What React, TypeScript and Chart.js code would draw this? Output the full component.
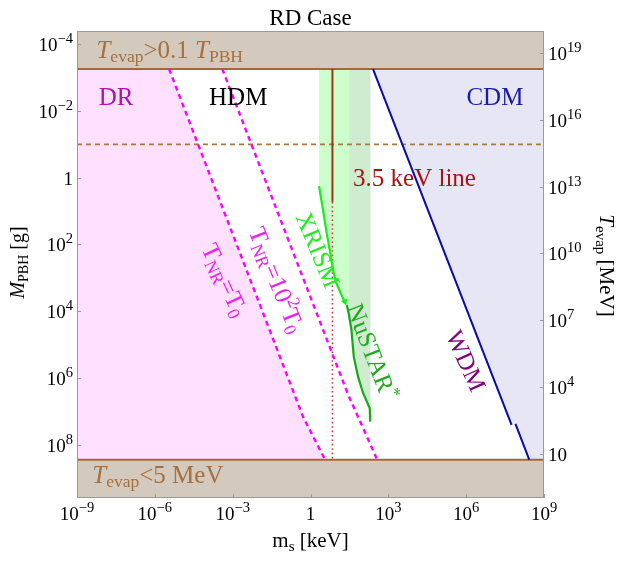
import React, { useEffect, useRef } from 'react';
import { Chart, registerables } from 'chart.js';

Chart.register(...registerables);

// ---------- axis ranges (log10 exponents) ----------
const xRangeExp = [-9, 9];          // m_s [keV]
const mRangeExp = [-4.4, 9.6];      // M_PBH [g] (top -> bottom)
const tRange = [0.1, 1e20];         // T_evap [MeV]

const xTickExps = [-9, -6, -3, 0, 3, 6, 9];
const mTickExps = [-4, -2, 0, 2, 4, 6, 8];
const tTickExps = [1, 4, 7, 10, 13, 16, 19];

// ---------- horizontal limits (log10 M) ----------
const upperLimitExp = -3.26;  // T_evap > 0.1 T_PBH
const lowerLimitExp = 8.45;   // T_evap < 5 MeV
const dashedLevelExp = -1;

// ---------- T_NR lines (log10 m_s, log10 M) ----------
const tnr1X = [-5.45, -0.29, 0.56];
const tnr1Y = [-3.26, 7.16, 8.45];
const tnr2X = [-3.4, 1.45, 2.57];
const tnr2Y = [-3.26, 6.5, 8.45];

// ---------- DR region ----------
const drX = [-9, -5.45, -0.29, 0.56];
const drY = [-3.26, -3.26, 7.16, 8.45];

// ---------- CDM / WDM boundary ----------
const cdmAX = [2.41, 7.75];
const cdmAY = [-3.26, 7.41];
const cdmBX = [7.9, 8.43];
const cdmBY = [7.38, 8.45];
const cdmFillX = [2.41, 7.75, 7.9, 8.43, 9];
const cdmFillY = [-3.26, 7.41, 7.38, 8.45, 8.45];

// ---------- 3.5 keV line (m_s = 7 keV) ----------
const lineMassExp = 0.845;
const lineSolidY = [-3.26, 0.72];
const lineDottedY = [0.72, 8.45];

// ---------- XRISM / NuSTAR ----------
const xrismX = [0.329, 0.483, 0.614, 0.742, 0.869, 1.0, 1.193, 1.32];
const xrismY = [0.246, 0.966, 1.616, 2.165, 2.764, 3.163, 3.514, 3.714];
const nustarX = [1.4, 1.486, 1.578, 1.667, 1.833, 2.025, 2.284, 2.303];
const nustarY = [3.81, 4.113, 4.563, 5.363, 5.963, 6.451, 6.91, 7.31];

const xrismBandX = [0.329, 0.483, 0.614, 0.742, 0.869, 1.0, 1.193, 1.32, 1.486];
const xrismBandY = [0.246, 0.966, 1.616, 2.165, 2.764, 3.163, 3.514, 3.714, 3.95];
const nustarBandX = [1.486, 1.578, 1.667, 1.833, 2.025, 2.284, 2.32];
const nustarBandY = [4.113, 4.563, 5.363, 5.963, 6.451, 6.91, 6.9];

// ---------- text ----------
const FONT = '"Liberation Serif", "Times New Roman", serif';
type Run = { t: string; s: number; i?: boolean; dy?: number };

const BASE = 25;
const SUB = 17.5;

const plotLabels: { runs: Run[]; x: number; y: number; rot: number; align: 'left' | 'center'; color: string }[] = [
  { runs: [{ t: 'T', s: BASE, i: true }, { t: 'evap', s: SUB, dy: 4 }, { t: '>0.1 ', s: BASE }, { t: 'T', s: BASE, i: true }, { t: 'PBH', s: SUB, dy: 4 }], x: -8.25, y: -3.58, rot: 0, align: 'left', color: '#a5703e' },
  { runs: [{ t: 'T', s: BASE, i: true }, { t: 'evap', s: SUB, dy: 4 }, { t: '<5 MeV', s: BASE }], x: -8.41, y: 9.16, rot: 0, align: 'left', color: '#a5703e' },
  { runs: [{ t: 'DR', s: BASE }], x: -8.16, y: -2.18, rot: 0, align: 'left', color: '#b010b0' },
  { runs: [{ t: 'HDM', s: BASE }], x: -3.91, y: -2.18, rot: 0, align: 'left', color: '#000000' },
  { runs: [{ t: 'CDM', s: BASE }], x: 6.01, y: -2.18, rot: 0, align: 'left', color: '#1c1caa' },
  { runs: [{ t: '3.5 keV line', s: BASE }], x: 1.64, y: 0.246, rot: 0, align: 'left', color: '#aa1111' },
  { runs: [{ t: 'XRISM', s: BASE }], x: 0.279, y: 2.165, rot: 67.7, align: 'center', color: '#22ee22' },
  { runs: [{ t: 'NuSTAR', s: BASE }, { t: '*', s: SUB, dy: -9 }], x: 2.36, y: 5.22, rot: 69, align: 'center', color: '#22aa22' },
  { runs: [{ t: 'WDM', s: BASE }], x: 5.985, y: 5.49, rot: 66, align: 'center', color: '#800080' },
  { runs: [{ t: 'T', s: BASE, i: false }, { t: 'NR', s: SUB, dy: 4 }, { t: '=T', s: BASE }, { t: '0', s: SUB, dy: 4 }], x: -3.306, y: 3.064, rot: 65, align: 'center', color: '#f01cf0' },
  { runs: [{ t: 'T', s: BASE }, { t: 'NR', s: SUB, dy: 4 }, { t: '=10', s: BASE }, { t: '2', s: SUB, dy: -10 }, { t: 'T', s: BASE }, { t: '0', s: SUB, dy: 4 }], x: -1.313, y: 3.064, rot: 68, align: 'center', color: '#f01cf0' },
];

const fontOf = (r: Run) => `${r.i ? 'italic ' : ''}${r.s}px ${FONT}`;

function runsWidth(ctx: CanvasRenderingContext2D, runs: Run[]) {
  let w = 0;
  for (const r of runs) {
    ctx.font = fontOf(r);
    w += ctx.measureText(r.t).width;
  }
  return w;
}

function drawRuns(ctx: CanvasRenderingContext2D, runs: Run[], x: number, y: number, align: 'left' | 'center' | 'right', color: string) {
  const w = runsWidth(ctx, runs);
  let cx = align === 'left' ? x : align === 'center' ? x - w / 2 : x - w;
  ctx.textAlign = 'left';
  ctx.textBaseline = 'alphabetic';
  ctx.fillStyle = color;
  for (const r of runs) {
    ctx.font = fontOf(r);
    ctx.fillText(r.t, cx, y + (r.dy || 0));
    cx += ctx.measureText(r.t).width;
  }
}

function tickRuns(e: number): Run[] {
  if (e === 0) return [{ t: '1', s: 19 }];
  if (e === 1) return [{ t: '10', s: 19 }];
  return [{ t: '10', s: 19 }, { t: (e < 0 ? '\u2212' : '') + Math.abs(e), s: 14.5, dy: -8 }];
}

const pts = (xs: number[], ys: number[]) => xs.map((x, i) => ({ x: 10 ** x, y: 10 ** ys[i] }));

const overlay = {
  id: 'overlay',
  afterDatasetsDraw(chart: any) {
    const ctx: CanvasRenderingContext2D = chart.ctx;
    const { left, right, top, bottom } = chart.chartArea;
    const xs = chart.scales.x;
    const ys = chart.scales.y;
    const ts = chart.scales.y2;
    ctx.save();

    // plot labels
    for (const L of plotLabels) {
      const px = xs.getPixelForValue(10 ** L.x);
      const py = ys.getPixelForValue(10 ** L.y);
      if (L.rot === 0) {
        drawRuns(ctx, L.runs, px, py, L.align, L.color);
      } else {
        ctx.save();
        ctx.translate(px, py);
        ctx.rotate((L.rot * Math.PI) / 180);
        drawRuns(ctx, L.runs, 0, 8, 'center', L.color);
        ctx.restore();
      }
    }

    // frame
    ctx.strokeStyle = '#9a9a9a';
    ctx.lineWidth = 1;
    ctx.strokeRect(left + 0.5, top + 0.5, right - left - 1, bottom - top - 1);

    // ticks
    ctx.beginPath();
    for (const t of xs.ticks) {
      const p = Math.round(xs.getPixelForValue(t.value)) + 0.5;
      ctx.moveTo(p, bottom);
      ctx.lineTo(p, bottom - 4);
    }
    for (const t of ys.ticks) {
      const p = Math.round(ys.getPixelForValue(t.value)) + 0.5;
      ctx.moveTo(left, p);
      ctx.lineTo(left + 4, p);
    }
    for (const t of ts.ticks) {
      const p = Math.round(ts.getPixelForValue(t.value)) + 0.5;
      ctx.moveTo(right, p);
      ctx.lineTo(right - 4, p);
    }
    ctx.stroke();

    // tick labels
    for (const t of xs.ticks) {
      const e = Math.round(Math.log10(t.value));
      drawRuns(ctx, tickRuns(e), xs.getPixelForValue(t.value), bottom + 22, 'center', '#000');
    }
    for (const t of ys.ticks) {
      const e = Math.round(Math.log10(t.value));
      drawRuns(ctx, tickRuns(e), left - 4, ys.getPixelForValue(t.value) + 7, 'right', '#000');
    }
    for (const t of ts.ticks) {
      const e = Math.round(Math.log10(t.value));
      drawRuns(ctx, tickRuns(e), right + 4, ts.getPixelForValue(t.value) + 7, 'left', '#000');
    }

    // title
    drawRuns(ctx, [{ t: 'RD Case', s: 23 }], (left + right) / 2, 25, 'center', '#000');

    // x axis title
    drawRuns(ctx, [{ t: 'm', s: 21 }, { t: 's', s: 15, dy: 4 }, { t: ' [keV]', s: 21 }], (left + right) / 2, 547, 'center', '#000');

    // left axis title
    ctx.save();
    ctx.translate(24, (top + bottom) / 2 - 2);
    ctx.rotate(-Math.PI / 2);
    drawRuns(ctx, [{ t: 'M', s: 20, i: true }, { t: 'PBH', s: 14, dy: 4 }, { t: ' [g]', s: 20 }], 0, 0, 'center', '#000');
    ctx.restore();

    // right axis title
    ctx.save();
    ctx.translate(600, (top + bottom) / 2 + 1);
    ctx.rotate(Math.PI / 2);
    drawRuns(ctx, [{ t: 'T', s: 21, i: true }, { t: 'evap', s: 15, dy: 4 }, { t: ' [MeV]', s: 21 }], 0, 0, 'center', '#000');
    ctx.restore();

    ctx.restore();
  },
};

const TAN = '#d4c9bd';
const BROWN = '#a6683a';
const CLEAR = 'rgba(0,0,0,0)';

export default function App() {
  const ref = useRef<HTMLCanvasElement>(null);

  useEffect(() => {
    const lastX = xrismX.length - 1;
    const chart = new Chart(ref.current!, {
      type: 'line',
      data: {
        datasets: [
          // fills
          { data: pts(drX, drY), fill: { value: 10 ** lowerLimitExp }, backgroundColor: '#ffe1ff', borderColor: CLEAR, borderWidth: 0, order: 30 },
          { data: pts(cdmFillX, cdmFillY), fill: { value: 10 ** upperLimitExp }, backgroundColor: '#e6e6f5', borderColor: CLEAR, borderWidth: 0, order: 30 },
          { data: pts(xrismBandX, xrismBandY), fill: { value: 10 ** upperLimitExp }, backgroundColor: '#ccffcc', borderColor: CLEAR, borderWidth: 0, order: 30 },
          { data: pts(nustarBandX, nustarBandY), fill: { value: 10 ** upperLimitExp }, backgroundColor: '#d0ecd0', borderColor: CLEAR, borderWidth: 0, order: 30 },
          // bands
          { data: pts(xRangeExp, [upperLimitExp, upperLimitExp]), fill: { value: 10 ** mRangeExp[0] }, backgroundColor: TAN, borderColor: BROWN, borderWidth: 2, order: 20 },
          { data: pts(xRangeExp, [lowerLimitExp, lowerLimitExp]), fill: { value: 10 ** mRangeExp[1] }, backgroundColor: TAN, borderColor: BROWN, borderWidth: 2, order: 20 },
          // dashed level
          { data: pts(xRangeExp, [dashedLevelExp, dashedLevelExp]), fill: false, borderColor: '#a8783f', borderWidth: 1.6, borderDash: [5, 4], order: 10 },
          // T_NR lines
          { data: pts(tnr1X, tnr1Y), fill: false, borderColor: '#ff00ff', borderWidth: 2.4, borderDash: [5, 4], order: 5 },
          { data: pts(tnr2X, tnr2Y), fill: false, borderColor: '#ff00ff', borderWidth: 2.4, borderDash: [5, 4], order: 5 },
          // CDM boundary
          { data: pts(cdmAX, cdmAY), fill: false, borderColor: '#0a0aa8', borderWidth: 2, order: 5 },
          { data: pts(cdmBX, cdmBY), fill: false, borderColor: '#0a0aa8', borderWidth: 2, order: 5 },
          // 3.5 keV line
          { data: pts([lineMassExp, lineMassExp], lineSolidY), fill: false, borderColor: '#a0321e', borderWidth: 2, order: 5 },
          { data: pts([lineMassExp, lineMassExp], lineDottedY), fill: false, borderColor: '#d03a3a', borderWidth: 1.6, borderDash: [1.6, 2.8], order: 5 },
          // XRISM
          {
            data: pts(xrismX, xrismY), fill: false, borderColor: '#1aee1a', borderWidth: 2.2, order: 4,
            pointRadius: (c: any) => (c.dataIndex === lastX ? 4 : 0), pointStyle: 'triangle', rotation: 160,
            pointBackgroundColor: '#1aee1a', pointBorderColor: '#1aee1a', pointBorderWidth: 0,
          },
          // NuSTAR
          { data: pts(nustarX, nustarY), fill: false, borderColor: '#14aa14', borderWidth: 2.2, order: 4 },
        ].map((d: any) => ({ pointRadius: 0, tension: 0, ...d })),
      },
      options: {
        animation: false,
        responsive: false,
        devicePixelRatio: 1,
        events: [],
        layout: { padding: { top: 31, left: 0, right: 0, bottom: 0 } },
        plugins: { legend: { display: false }, tooltip: { enabled: false }, title: { display: false } },
        scales: {
          x: {
            type: 'logarithmic',
            min: 10 ** xRangeExp[0],
            max: 10 ** xRangeExp[1],
            ticks: { display: false },
            grid: { display: false },
            border: { display: false },
            afterBuildTicks: (s: any) => { s.ticks = xTickExps.map((e) => ({ value: 10 ** e })); },
            afterFit: (s: any) => { s.height = 63; },
          },
          y: {
            type: 'logarithmic',
            reverse: true,
            min: 10 ** mRangeExp[0],
            max: 10 ** mRangeExp[1],
            ticks: { display: false },
            grid: { display: false },
            border: { display: false },
            afterBuildTicks: (s: any) => { s.ticks = mTickExps.map((e) => ({ value: 10 ** e })); },
            afterFit: (s: any) => { s.width = 77; },
          },
          y2: {
            type: 'logarithmic',
            position: 'right',
            min: tRange[0],
            max: tRange[1],
            ticks: { display: false },
            grid: { display: false },
            border: { display: false },
            afterBuildTicks: (s: any) => { s.ticks = tTickExps.map((e) => ({ value: 10 ** e })); },
            afterFit: (s: any) => { s.width = 75; },
          },
        },
      } as any,
      plugins: [overlay],
    });
    return () => chart.destroy();
  }, []);

  return (
    <div style={{ position: 'absolute', left: 0, top: 0, width: 619, height: 561, background: '#fff' }}>
      <canvas ref={ref} width={619} height={561} style={{ display: 'block', width: 619, height: 561 }} />
    </div>
  );
}
